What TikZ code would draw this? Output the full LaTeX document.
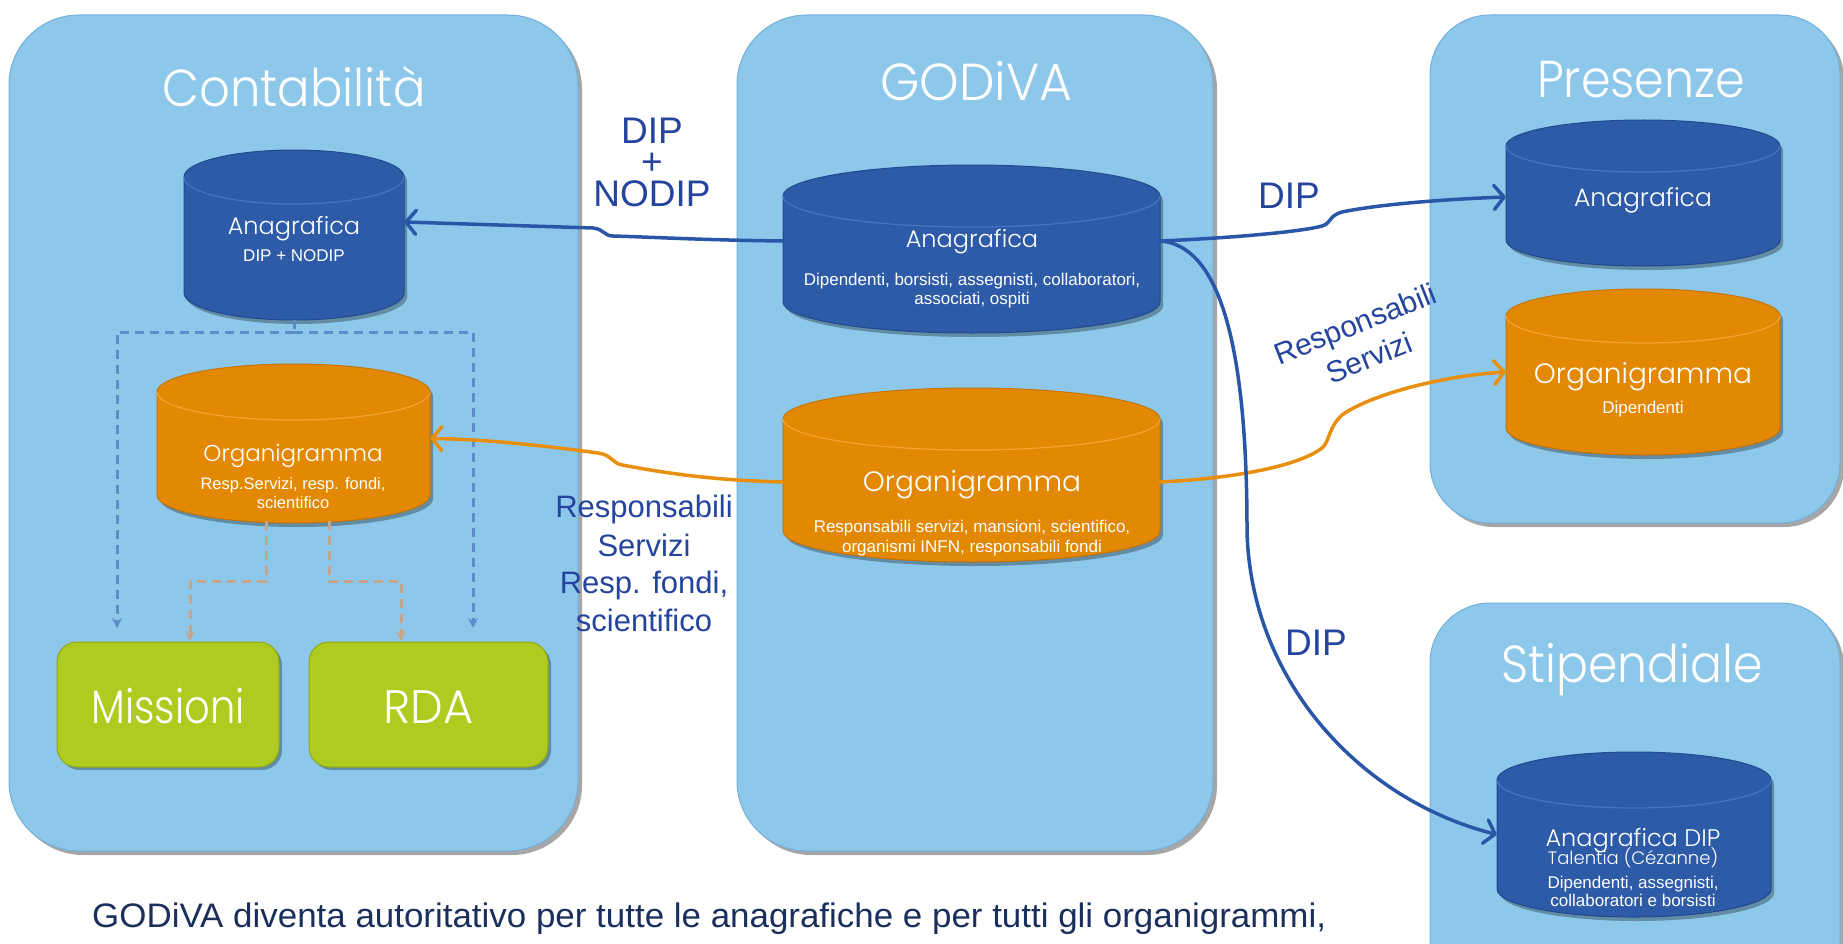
\documentclass[tikz,border=0pt]{standalone}
\usepackage{fontspec}
\usepackage{graphicx}
\setmainfont{Liberation Sans}
\IfFontExistsTF{Poppins Light}{\newfontfamily\gothic{Poppins Light}}{\newfontfamily\gothic{Poppins}}
\usetikzlibrary{shadows,arrows.meta}

\definecolor{panelfill}{HTML}{8DC8EB}
\definecolor{paneledge}{HTML}{72AFDA}
\definecolor{bluefill}{HTML}{2D5BA8}
\definecolor{blueedge}{HTML}{21498E}
\definecolor{bluelid}{HTML}{4474C4}
\definecolor{orangefill}{HTML}{E38803}
\definecolor{orangeedge}{HTML}{C67400}
\definecolor{orangelid}{HTML}{F3A233}
\definecolor{boxgreen}{HTML}{AFCB1F}
\definecolor{boxedge}{HTML}{8EA814}
\definecolor{arrblue}{HTML}{2A56A8}
\definecolor{arrorange}{HTML}{E8900E}
\definecolor{lblblue}{HTML}{24449E}
\definecolor{dashblue}{HTML}{5D8CCB}
\definecolor{dashbrown}{HTML}{C4A48A}
\definecolor{navy}{HTML}{1B2F5C}

\newcommand\fs[1]{\fontsize{#1}{#1}\selectfont}
\newcommand\wfit[2]{\resizebox{#1pt}{\height}{#2}}

\tikzset{
  x=1pt, y=-1pt,
  panel/.style={draw=paneledge, line width=1pt, fill=panelfill, rounded corners=#1,
    drop shadow={shadow xshift=4pt, shadow yshift=-4pt, opacity=0.35, fill=black}},
  gbox/.style={draw=boxedge, line width=1pt, fill=boxgreen, rounded corners=20pt,
    minimum width=222pt, minimum height=125pt, inner sep=0pt,
    drop shadow={shadow xshift=3pt, shadow yshift=-3pt, opacity=0.3, fill=black}},
  ttl/.style={anchor=base, text=white, inner sep=0pt, font=\gothic\fs{52}},
  gtxt/.style={anchor=base, text=white, inner sep=0pt},
  stxt/.style={anchor=base, text=white, inner sep=0pt, font=\fs{17}},
  lbl/.style={anchor=base, text=lblblue, inner sep=0pt},
  rlbl/.style={text=lblblue, inner sep=0pt, rotate=21.6, anchor=center,
    text height=22pt, text depth=6pt, font=\fs{30}},
  barr/.style={draw=arrblue, line width=3.5pt, line cap=round,
    -{Straight Barb[length=10pt,width=24pt,round]}},
  oarr/.style={draw=arrorange, line width=3.5pt, line cap=round,
    -{Straight Barb[length=10pt,width=24pt,round]}},
  dblue/.style={draw=dashblue, line width=3pt, dash pattern=on 9pt off 6pt},
  dbrown/.style={draw=dashbrown, line width=3pt, dash pattern=on 9pt off 6pt},
  dtip/.style={-{Stealth[length=10pt,width=10pt]}},
}

% cylinder: name, xl, yt, xr, yb, ry, colour prefix
\newcommand\dbcyl[7]{%
  \pgfmathsetmacro\cylcx{(#2+#4)/2}%
  \pgfmathsetmacro\cylcy{(#3+#5)/2}%
  \pgfmathsetmacro\cylrx{(#4-#2)/2}%
  \pgfmathsetmacro\cylwd{#4-#2}%
  \pgfmathsetmacro\cylht{#5-#3}%
  \pgfmathsetmacro\cylya{#3+#6}%
  \pgfmathsetmacro\cylyb{#5-#6}%
  \path[fill=#7fill, draw=#7edge, line width=1pt,
    drop shadow={shadow xshift=3pt, shadow yshift=-4pt, opacity=0.3, fill=black}]
    (#2,\cylya) -- (#2,\cylyb)
    arc[start angle=180, end angle=0, x radius=\cylrx, y radius=#6]
    -- (#4,\cylya)
    arc[start angle=0, end angle=-180, x radius=\cylrx, y radius=#6] -- cycle;
  \draw[#7lid, line width=1.2pt] (#2,\cylya)
    arc[start angle=180, end angle=0, x radius=\cylrx, y radius=#6];
  \node[inner sep=0pt, minimum width=\cylwd pt, minimum height=\cylht pt] (#1) at (\cylcx,\cylcy) {};
}

\begin{document}
\begin{tikzpicture}
\useasboundingbox (0,0) rectangle (1843,944);
\clip (0,0) rectangle (1843,944);
\fill[white] (0,0) rectangle (1843,944);

% panels
\path[panel=70pt] (9,15) rectangle (578,851);
\path[panel=70pt] (737,15) rectangle (1213,851);
\path[panel=60pt] (1430,15) rectangle (1840,523);
\path[panel=60pt] (1430,603) rectangle (1840,1000);

% titles
\node[ttl] (tcont) at (294,107) {\wfit{263}{Contabilità}};
\node[ttl] (tgod) at (976,101) {\wfit{192}{GODiVA}};
\node[ttl] (tpres) at (1641,98) {\wfit{208}{Presenze}};
\node[ttl] (tstip) at (1632,682) {\wfit{261}{Stipendiale}};

% cylinders
\dbcyl{ca}{184}{150}{404}{320}{27}{blue}
\dbcyl{co}{157}{364}{430}{523}{28}{orange}
\dbcyl{ga}{783}{165}{1160}{333}{31}{blue}
\dbcyl{go}{783}{388}{1160}{562}{31}{orange}
\dbcyl{pa}{1506}{120}{1780}{266}{26}{blue}
\dbcyl{po}{1506}{289}{1780}{455}{27}{orange}
\dbcyl{sa}{1497}{752}{1771}{917}{28}{blue}

% cylinder texts
\node[gtxt, font=\gothic\fs{24}] (caT) at (294,234) {Anagrafica};
\node[stxt] (caS) at (294,261) {DIP + NODIP};
\node[gtxt, font=\gothic\fs{23}] (coT) at (293,461) {Organigramma};
\node[stxt, font=\fs{16.5}] (coS1) at (293,489) {Resp.Servizi, resp. fondi,};
\node[stxt, font=\fs{16.5}] (coS2) at (293,508) {scientifico};
\node[gtxt, font=\gothic\fs{24}] (gaT) at (972,247) {Anagrafica};
\node[stxt] (gaS1) at (972,285) {Dipendenti, borsisti, assegnisti, collaboratori,};
\node[stxt] (gaS2) at (972,304) {associati, ospiti};
\node[gtxt, font=\gothic\fs{28}] (goT) at (972,491) {Organigramma};
\node[stxt] (goS1) at (972,532) {Responsabili servizi, mansioni, scientifico,};
\node[stxt] (goS2) at (972,552) {organismi INFN, responsabili fondi};
\node[gtxt, font=\gothic\fs{25}] (paT) at (1643,206) {Anagrafica};
\node[gtxt, font=\gothic\fs{28}] (poT) at (1643,383) {Organigramma};
\node[stxt] (poS) at (1643,413) {Dipendenti};
\node[gtxt, font=\gothic\fs{24}] (saT) at (1633,846) {Anagrafica DIP};
\node[gtxt, font=\gothic\fs{18}] (saT2) at (1633,864) {Talentia (Cézanne)};
\node[stxt] (saS1) at (1633,888) {Dipendenti, assegnisti,};
\node[stxt] (saS2) at (1633,906) {collaboratori e borsisti};

% green boxes
\node[gbox] (mis) at (168,704.5) {};
\node[gbox, minimum width=239pt] (rda) at (428.5,704.5) {};
\node[gtxt, font=\gothic\fs{47}] (misT) at (168,723) {\wfit{153}{Missioni}};
\node[gtxt, font=\gothic\fs{47}] (rdaT) at (428.5,723) {\wfit{90}{RDA}};

% dashed connectors inside Contabilita
\coordinate (dj) at (294,332);
\coordinate (dl) at (117,628);
\coordinate (dr) at (473,628);
\draw[dblue] (ca.south) -- (dj);
\draw[dblue, dtip] (dj) -| (dl);
\draw[dblue, dtip] (dj) -| (dr);
\coordinate (bl) at (266,521);
\coordinate (br) at (329,521);
\coordinate (blt) at (190,641);
\coordinate (brt) at (401,641);
\draw[dbrown, dtip] (bl) -- (266,581) -| (blt);
\draw[dbrown, dtip] (br) -- (329,581) -| (brt);

% main connectors
\draw[barr] ([yshift=8pt]ga.west) .. controls (700,240) and (650,237) .. (613,236)
  .. controls (604,236) and (604,229) .. (593,228) -- ([yshift=13pt]ca.east);
\draw[oarr] ([yshift=-7pt]go.west) .. controls (700,480) and (650,470) .. (622,465)
  .. controls (612,463) and (612,455) .. (598,453) .. controls (540,445) and (480,439) .. ([yshift=5pt]co.east);
\draw[barr] ([yshift=8pt]ga.east) .. controls (1230,238) and (1300,232) .. (1322,226)
  .. controls (1332,223) and (1328,216) .. (1342,212)
  .. controls (1380,204) and (1450,199) .. ([yshift=-4pt]pa.west);
\draw[oarr] ([yshift=-7pt]go.east) .. controls (1240,478) and (1300,465) .. (1322,448)
  .. controls (1330,441) and (1328,428) .. (1342,415)
  .. controls (1370,395) and (1440,376) .. (po.west);
\draw[barr] ([yshift=8pt]ga.east) .. controls (1215,245) and (1247,330) .. (1247,530)
  .. controls (1250,680) and (1360,800) .. (sa.west);

% labels
\node[lbl, font=\fs{37}] (l1a) at (652,144) {DIP};
\node[lbl, font=\fs{37}] (l1b) at (652,175) {+};
\node[lbl, font=\fs{37}] (l1c) at (652,207) {NODIP};
\node[lbl, font=\fs{37}] (l2) at (1289,208) {DIP};
\node[lbl, font=\fs{37}] (l3) at (1316,655) {DIP};
\node[rlbl] (l4a) at (1356,326) {Responsabili};
\node[rlbl] (l4b) at (1370,360) {Servizi};
\node[lbl, font=\fs{31}] (l5a) at (644,517) {Responsabili};
\node[lbl, font=\fs{31}] (l5b) at (644,556) {Servizi};
\node[lbl, font=\fs{31}] (l5c) at (644,593) {Resp. fondi,};
\node[lbl, font=\fs{31}] (l5d) at (644,631) {scientifico};

% bottom note
\node[anchor=base west, inner sep=0pt, text=navy, font=\fs{34}] (note) at (92,927)
  {\wfit{1234}{GODiVA diventa autoritativo per tutte le anagrafiche e per tutti gli organigrammi,}};
\end{tikzpicture}
\end{document}
